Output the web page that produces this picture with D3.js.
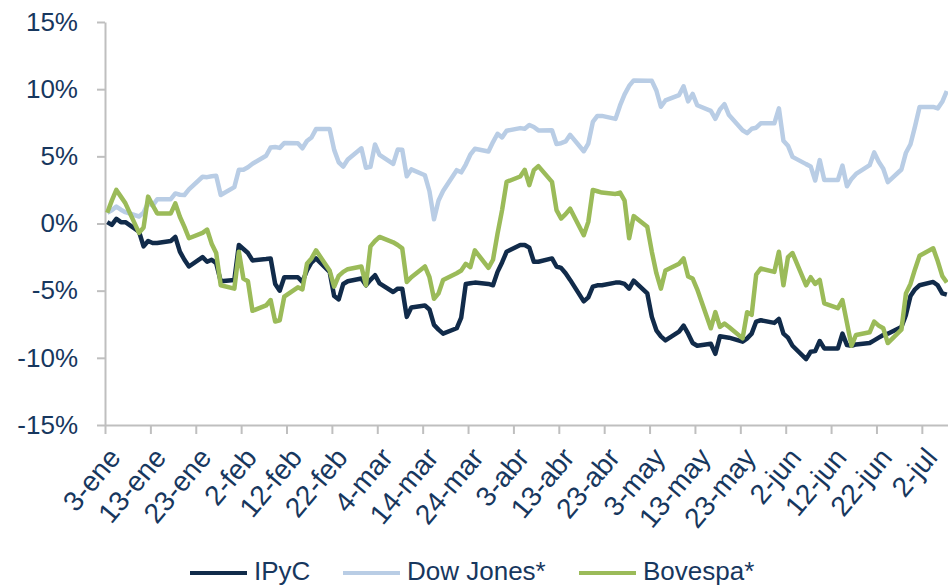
<!DOCTYPE html>
<html>
<head>
<meta charset="utf-8">
<script src="https://cdn.jsdelivr.net/npm/d3@7"></script>
<style>
  body { margin: 0; background: #fff; }
  svg { display: block; font-family: "Liberation Sans", Arial, sans-serif; }
</style>
</head>
<body>
<svg id="chart" width="948" height="586"></svg>
<script>
// trading days (weekdays) 3-ene-2011 .. 7-jul-2011
const firstDay = new Date(Date.UTC(2011, 0, 3));
const lastDay = new Date(Date.UTC(2011, 6, 8)); // exclusive
const days = d3.utcDay.range(firstDay, lastDay).filter(d => d.getUTCDay() % 6 !== 0);

// % change vs. end of 2010, one value per weekday (holidays repeat the previous close)
const ipyc = [
  0.1, -0.1, 0.35, 0.1, 0.1,
  -0.6, -1.7, -1.3, -1.45, -1.45,
  -1.3, -1.0, -2.1, -2.7, -3.2,
  -2.5, -2.85, -2.7, -2.95, -4.3,
  -4.2, -1.6, -1.9, -2.2, -2.75,
  -2.65, -2.6, -4.5, -5.0, -4.0,
  -4.0, -4.35, -3.5, -2.9, -2.6,
  -3.6, -5.4, -5.65, -4.5, -4.3,
  -4.1, -4.6, -4.2, -3.85, -4.45,
  -5.1, -4.85, -4.85, -6.95, -6.25,
  -6.1, -6.4, -7.55, -7.9, -8.2,
  -7.8, -7.0, -4.5, -4.45, -4.4,
  -4.5, -4.6, -3.6, -2.9, -2.1,
  -1.6, -1.6, -1.8, -2.85, -2.85,
  -2.6, -3.2, -3.3, -3.7, -4.2,
  -5.8, -5.5, -4.7, -4.6, -4.6,
  -4.4, -4.4, -4.5, -4.85, -4.25,
  -5.2, -6.95, -7.95, -8.4, -8.7,
  -8.05, -7.6, -8.2, -8.9, -9.1,
  -8.95, -9.7, -8.4, -8.45, -8.5,
  -8.8, -8.55, -8.2, -7.3, -7.2,
  -7.4, -7.1, -8.2, -8.5, -9.1,
  -10.1, -9.55, -9.5, -8.75, -9.3,
  -9.3, -8.2, -9.05, -9.1, -9.0,
  -8.9, -8.7, -8.5, -8.3, -8.2,
  -7.7, -6.8, -5.4, -4.9, -4.6,
  -4.35, -4.6, -5.2, -5.3
];
const dowJones = [
  0.81, 0.98, 1.26, 1.03, 0.84,
  0.52, 0.81, 1.54, 1.33, 1.81,
  1.81, 2.24, 2.14, 2.12, 2.54,
  3.48, 3.45, 3.52, 3.56, 2.12,
  2.71, 4.0, 4.0, 4.19, 4.45,
  5.04, 5.66, 5.7, 5.63, 6.0,
  5.97, 5.6, 6.14, 6.4, 7.03,
  7.03, 5.48, 4.56, 4.24, 4.77,
  5.6, 4.15, 4.22, 5.88, 5.11,
  4.43, 5.5, 5.49, 3.51, 4.03,
  3.59, 2.4, 0.31, 1.71, 2.42,
  3.97, 3.81, 4.39, 5.12, 5.56,
  5.36, 6.06, 6.68, 6.41, 6.9,
  7.1, 7.05, 7.33, 7.18, 6.93,
  6.94, 5.92, 5.98, 6.11, 6.6,
  5.38, 5.95, 7.56, 8.01, 8.01,
  7.79, 8.79, 9.61, 10.24, 10.65,
  10.62, 10.62, 9.9, 8.69, 9.16,
  9.56, 10.21, 9.09, 9.65, 8.8,
  8.38, 7.79, 8.49, 8.88, 8.07,
  6.94, 6.73, 7.05, 7.13, 7.46,
  7.46, 8.57, 6.16, 5.79, 4.96,
  4.42, 4.25, 3.2, 4.72, 3.23,
  3.24, 4.31, 2.77, 3.32, 3.69,
  4.34, 5.29, 4.59, 4.08, 3.08,
  4.02, 5.27, 5.9, 7.23, 8.68,
  8.68, 8.57, 9.06, 9.86
];
const bovespa = [
  0.8, 1.7, 2.5, 2.0, 1.5,
  -0.7, -0.3, 2.0, 1.36, 0.75,
  0.75, 1.5, 0.5, -0.25, -1.1,
  -0.7, -0.45, -1.5, -2.2, -4.6,
  -4.85, -2.1, -4.1, -4.3, -6.5,
  -6.1, -5.7, -7.3, -7.2, -5.45,
  -4.75, -4.9, -3.0, -2.6, -2.0,
  -3.5, -4.7, -3.9, -3.6, -3.4,
  -3.2, -4.6, -1.7, -1.3, -1.0,
  -1.4, -1.6, -1.85, -4.35, -4.0,
  -3.2, -4.0, -5.6, -5.2, -4.2,
  -3.7, -3.5, -3.0, -3.25, -2.0,
  -3.3, -2.7, -0.75, 1.0, 3.1,
  3.5, 4.0, 2.85, 3.97, 4.27,
  3.1, 1.0, 0.37, 0.7, 1.1,
  -0.87, 0.12, 2.5, 2.4, 2.3,
  2.2, 2.3, 1.7, -1.1, 0.55,
  -0.25, -2.1, -3.7, -4.85, -3.5,
  -3.0, -2.6, -3.95, -4.1, -4.9,
  -7.8, -6.6, -7.7, -7.45, -7.7,
  -8.55, -6.6, -6.8, -3.8, -3.35,
  -3.6, -2.1, -4.6, -2.5, -2.2,
  -4.6, -4.0, -4.5, -4.2, -5.95,
  -6.3, -5.7, -7.4, -9.1, -8.3,
  -8.1, -7.3, -7.6, -7.8, -8.9,
  -7.9, -5.2, -4.5, -3.4, -2.4,
  -1.85, -2.8, -3.9, -4.4
];

const seriesNames = ["IPyC", "Dow Jones*", "Bovespa*"];
const seriesColors = ["#112b4a", "#b9cde5", "#9bbb59"];
const yTicks = [-15, -10, -5, 0, 5, 10, 15];
const tickLabels = ["3-ene", "13-ene", "23-ene", "2-feb", "12-feb", "22-feb", "4-mar", "14-mar",
  "24-mar", "3-abr", "13-abr", "23-abr", "3-may", "13-may", "23-may", "2-jun", "12-jun", "22-jun", "2-jul"];

const textColor = "#17375e";
const axisColor = "#bfbfbf";

const svg = d3.select("#chart");

const x = d3.scaleUtc()
  .domain([firstDay, d3.utcDay.offset(firstDay, 187)])
  .range([105, 105 + 187 * 4.538]);
const y = d3.scaleLinear().domain([-15, 15]).range([425, 22]);

// Excel date axis: each point sits in the middle of its day
const px = d => x(d3.utcHour.offset(d, 12));

// x axis
const tickDates = tickLabels.map((t, i) => d3.utcDay.offset(firstDay, i * 10));
const xAxis = svg.append("g")
  .attr("transform", `translate(0,${y(-15)})`)
  .call(d3.axisBottom(x).tickValues(tickDates).tickFormat((d, i) => tickLabels[i]).tickSize(9).tickSizeOuter(0));
xAxis.select(".domain").attr("stroke", axisColor).attr("stroke-width", 2);
xAxis.selectAll(".tick line").attr("stroke", axisColor).attr("stroke-width", 2);
xAxis.selectAll(".tick text")
  .attr("y", 0).attr("dy", "0.35em")
  .attr("text-anchor", "end")
  .attr("transform", "translate(9,27) rotate(-50)")
  .attr("fill", textColor)
  .style("font-size", "28px");

// y axis
const yAxis = svg.append("g")
  .attr("transform", "translate(105,0)")
  .call(d3.axisLeft(y).tickValues(yTicks).tickFormat(d => d + "%").tickSize(8).tickPadding(19).tickSizeOuter(0));
yAxis.select(".domain").attr("stroke", axisColor).attr("stroke-width", 2);
yAxis.selectAll(".tick line").attr("stroke", axisColor).attr("stroke-width", 2);
yAxis.selectAll(".tick text")
  .attr("fill", textColor)
  .style("font-size", "26px");
svg.selectAll("g").attr("font-family", null);

// lines
const line = d3.line().x((v, i) => px(days[i])).y(v => y(v));
[ipyc, dowJones, bovespa].forEach((vals, k) => {
  svg.append("path")
    .datum(vals)
    .attr("d", line)
    .attr("fill", "none")
    .attr("stroke", seriesColors[k])
    .attr("stroke-width", 4.5)
    .attr("stroke-linejoin", "round");
});

// legend
const legendX = [190, 343, 579];
const legend = svg.append("g").attr("transform", "translate(0,573)");
seriesNames.forEach((name, k) => {
  legend.append("line")
    .attr("x1", legendX[k]).attr("x2", legendX[k] + 57)
    .attr("stroke", seriesColors[k]).attr("stroke-width", 4);
  legend.append("text")
    .attr("x", legendX[k] + 64).attr("y", -2).attr("dy", "0.35em")
    .attr("fill", textColor)
    .style("font-size", "26px")
    .text(name);
});
</script>
</body>
</html>
